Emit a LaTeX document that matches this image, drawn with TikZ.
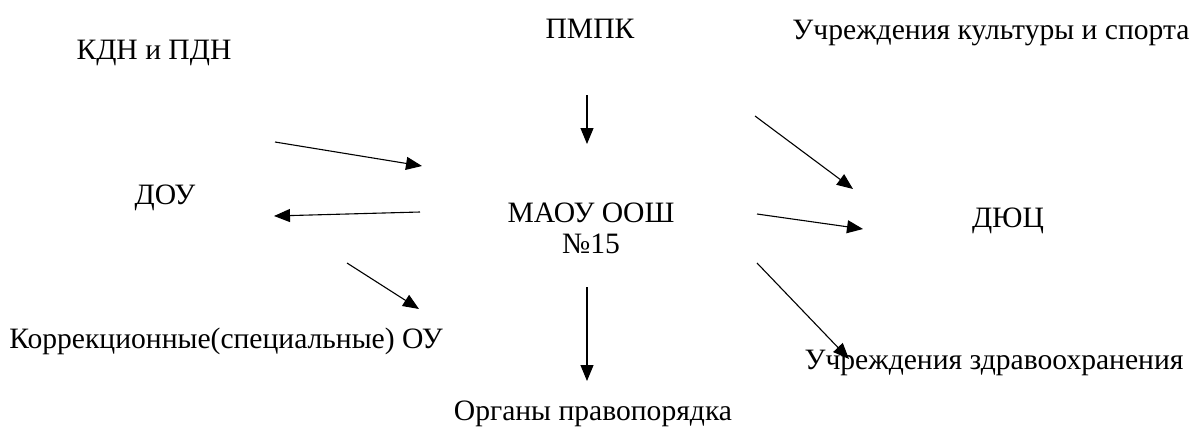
\documentclass[tikz,border=0pt]{standalone}
\usepackage{fontspec}
\setmainfont{Liberation Serif}
\usetikzlibrary{arrows.meta}
\begin{document}
\begin{tikzpicture}[x=1pt,y=-1pt,
  lbl/.style={inner sep=0pt,anchor=center,align=center,font=\fontsize{29.6}{31}\selectfont},
  conn/.style={line width=1.1pt,-{Triangle[length=16pt,width=13pt]}}]
\useasboundingbox (0,0) rectangle (1196,426);
\node[lbl] (kdn) at (154,53) {КДН и ПДН};
\node[lbl] (pmpk) at (590,29) {ПМПК};
\node[lbl] (kult) at (991,33) {Учреждения культуры и спорта};
\node[lbl] (dou) at (165,198) {ДОУ};
\node[lbl] (maou) at (591,228) {МАОУ ООШ\\№15};
\node[lbl] (duc) at (1008,221) {ДЮЦ};
\node[lbl] (korr) at (226,341) {Коррекционные(специальные) ОУ};
\node[lbl] (zdrav) at (994,363) {Учреждения здравоохранения};
\node[lbl] (org) at (593,414) {Органы правопорядка};
\coordinate (a1s) at (275,142); \coordinate (a1e) at (422,166);
\coordinate (a2s) at (420,212); \coordinate (a2e) at (274,216);
\coordinate (a3s) at (587,95);  \coordinate (a3e) at (587,144);
\coordinate (a4s) at (755,116); \coordinate (a4e) at (853,189);
\coordinate (a5s) at (757,214); \coordinate (a5e) at (863,229);
\coordinate (a6s) at (347,263); \coordinate (a6e) at (419,309);
\coordinate (a7s) at (757,263); \coordinate (a7e) at (849,359);
\coordinate (a8s) at (587,287); \coordinate (a8e) at (587,381);
\foreach \i in {1,...,8} \draw[conn] (a\i s) -- (a\i e);
\end{tikzpicture}
\end{document}
